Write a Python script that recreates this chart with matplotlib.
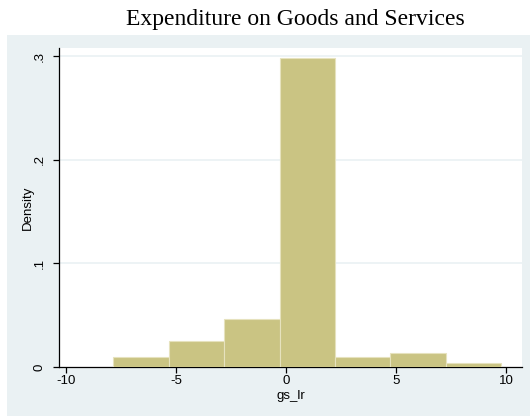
import numpy as np
import matplotlib
matplotlib.use("Agg")
import matplotlib.pyplot as plt
from matplotlib.patches import Rectangle

# Histogram of gs_lr: bin edges and density heights
bin_edges = [-7.85, -5.33, -2.81, -0.29, 2.23, 4.75, 7.27, 9.79]
densities = [0.0094, 0.0251, 0.0464, 0.298, 0.0094, 0.0132, 0.0039]

x_ticks = [-10, -5, 0, 5, 10]
x_tick_labels = ["-10", "-5", "0", "5", "10"]
y_ticks = [0, 0.1, 0.2, 0.3]
y_tick_labels = ["0", ".1", ".2", ".3"]

title = "Expenditure on Goods and Services"
x_label = "gs_lr"
y_label = "Density"

panel_color = "#EAF1F3"
bar_color = "#CAC483"
bar_edge = "#E6E2BE"
sans = "Liberation Sans"

fig = plt.figure(figsize=(5.30, 4.16), dpi=100)
fig.patch.set_facecolor("white")

# light graph-region panel behind the plot
fig.patches.append(Rectangle((7 / 530, 0.0), 523 / 530, (416 - 35) / 416,
                             transform=fig.transFigure, facecolor=panel_color,
                             edgecolor="none", zorder=-5))

ax = fig.add_axes([59 / 530, (416 - 367) / 416, (522 - 59) / 530, (367 - 48) / 416])
ax.set_zorder(2)
ax.set_facecolor("white")

edges = np.array(bin_edges)
ax.bar(edges[:-1], densities, width=np.diff(edges), align="edge",
       color=bar_color, edgecolor=bar_edge, linewidth=0.8, zorder=3)

ax.set_xlim(-10.32, 10.73)
ax.set_ylim(0, 0.308)

ax.set_xticks(x_ticks)
ax.set_xticklabels(x_tick_labels)
ax.set_yticks(y_ticks)
ax.set_yticklabels(y_tick_labels, rotation=90, va="center")

for y in y_ticks[1:]:
    ax.axhline(y, color=panel_color, linewidth=1.2, zorder=1)

for side in ("top", "right"):
    ax.spines[side].set_visible(False)
for side in ("left", "bottom"):
    ax.spines[side].set_linewidth(0.9)
    ax.spines[side].set_color("black")

ax.tick_params(direction="out", length=4, width=0.9,
               labelsize=9.5, colors="black")
ax.tick_params(axis="x", pad=2)
ax.tick_params(axis="y", pad=5.5)
for lbl in ax.get_xticklabels() + ax.get_yticklabels():
    lbl.set_fontfamily(sans)

ax.set_xlabel(x_label, fontsize=9.5, family=sans)
ax.xaxis.set_label_coords(0.5, -0.073)
ax.set_ylabel(y_label, fontsize=9.5, family=sans)
ax.yaxis.set_label_coords(-0.055, 0.5)

fig.text(295 / 530, 1 - 19 / 416, title, ha="center", va="center",
         fontsize=17, family="Liberation Serif")

fig.savefig("out.png", dpi=100, facecolor=fig.get_facecolor())
